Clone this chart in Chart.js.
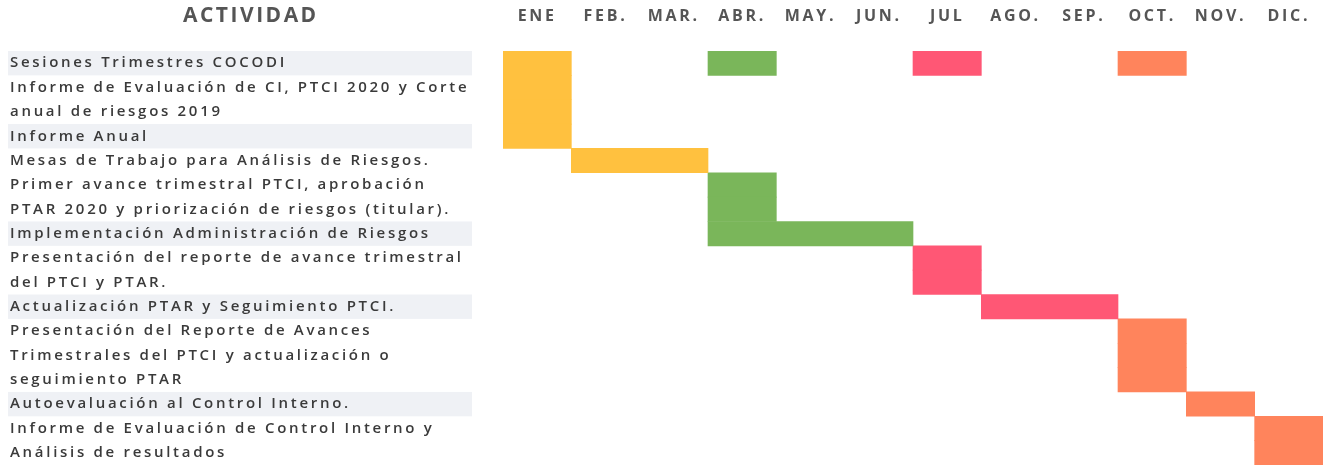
<!DOCTYPE html>
<html>
<head>
<meta charset="utf-8">
<script src="https://cdn.jsdelivr.net/npm/chart.js@4.4.1/dist/chart.umd.min.js"></script>
<style>
  body { margin: 0; background: #fff; }
  #wrap { position: relative; width: 1323px; height: 465px; }
  #head { position: absolute; left: 183px; top: 4px; font: bold 21px/21px "Open Sans", sans-serif; color: #555; letter-spacing: 2.5px; }
</style>
</head>
<body>
<div id="wrap">
  <div id="head">ACTIVIDAD</div>
  <canvas id="chart"></canvas>
</div>
<script>
const months = ["ENE", "FEB.", "MAR.", "ABR.", "MAY.", "JUN.", "JUL", "AGO.", "SEP.", "OCT.", "NOV.", "DIC."];

const activityLines = [
  "Sesiones Trimestres COCODI",
  "Informe de Evaluación de CI, PTCI 2020 y Corte",
  "anual de riesgos 2019",
  "Informe Anual",
  "Mesas de Trabajo para Análisis de Riesgos.",
  "Primer avance trimestral PTCI, aprobación",
  "PTAR 2020 y priorización de riesgos (titular).",
  "Implementación Administración de Riesgos",
  "Presentación del reporte de avance trimestral",
  "del PTCI y PTAR.",
  "Actualización PTAR y Seguimiento PTCI.",
  "Presentación del Reporte de Avances",
  "Trimestrales del PTCI y actualización o",
  "seguimiento PTAR",
  "Autoevaluación al Control Interno.",
  "Informe de Evaluación de Control Interno y",
  "Análisis de resultados"
];

// [start month, end month] per line, null when empty
const yellowBars = [[0, 1], [0, 1], [0, 1], [0, 1], [1, 3], null, null, null, null, null, null, null, null, null, null, null, null];
const greenBars  = [[3, 4], null, null, null, null, [3, 4], [3, 4], [3, 6], null, null, null, null, null, null, null, null, null];
const redBars    = [[6, 7], null, null, null, null, null, null, null, [6, 7], [6, 7], [7, 9], null, null, null, null, null, null];
const orangeBars = [[9, 10], null, null, null, null, null, null, null, null, null, null, [9, 10], [9, 10], [9, 10], [10, 11], [11, 12], [11, 12]];

const shadedLines = [0, 3, 7, 10, 14];

const rowBands = {
  id: "rowBands",
  beforeDraw(chart) {
    const ctx = chart.ctx;
    const y = chart.scales.y;
    const h = y.getPixelForValue(1) - y.getPixelForValue(0);
    ctx.save();
    ctx.fillStyle = "#eff1f5";
    shadedLines.forEach(i => {
      ctx.fillRect(8, y.getPixelForValue(i) - h / 2, 464, h);
    });
    ctx.restore();
    // the source text is widely spaced
    ctx.letterSpacing = "2.7px";
  }
};

const common = { grouped: false, barPercentage: 1, categoryPercentage: 1, borderWidth: 0 };

new Chart(document.getElementById("chart"), {
  type: "bar",
  data: {
    labels: activityLines,
    datasets: [
      { ...common, data: yellowBars, backgroundColor: "#ffc13f" },
      { ...common, data: greenBars, backgroundColor: "#7ab65a" },
      { ...common, data: redBars, backgroundColor: "#ff5775" },
      { ...common, data: orangeBars, backgroundColor: "#ff845c" }
    ]
  },
  options: {
    indexAxis: "y",
    responsive: true,
    maintainAspectRatio: false,
    animation: false,
    layout: { padding: { left: 10, right: 0, top: 0, bottom: 0 } },
    plugins: { legend: { display: false }, tooltip: { enabled: false } },
    scales: {
      x: {
        position: "top",
        min: 0,
        max: 12,
        grid: { display: false, drawTicks: false },
        border: { display: false },
        afterBuildTicks: s => { s.ticks = months.map((m, i) => ({ value: i + 0.5 })); },
        afterFit: s => { s.height = 51; s.paddingLeft = 0; s.paddingRight = 0; },
        ticks: {
          autoSkip: false,
          maxRotation: 0,
          padding: 25,
          color: "#555",
          font: { family: "Open Sans", size: 16, weight: "bold" },
          callback: v => months[Math.floor(v)]
        }
      },
      y: {
        grid: { display: false, drawTicks: false },
        border: { display: false },
        afterFit: s => { s.width = 493; s.paddingTop = 0; s.paddingBottom = 0; },
        ticks: {
          crossAlign: "far",
          autoSkip: false,
          color: "#3a3a3a",
          font: { family: "Open Sans", size: 15, weight: "600" }
        }
      }
    }
  },
  plugins: [rowBands]
});
</script>
</body>
</html>
